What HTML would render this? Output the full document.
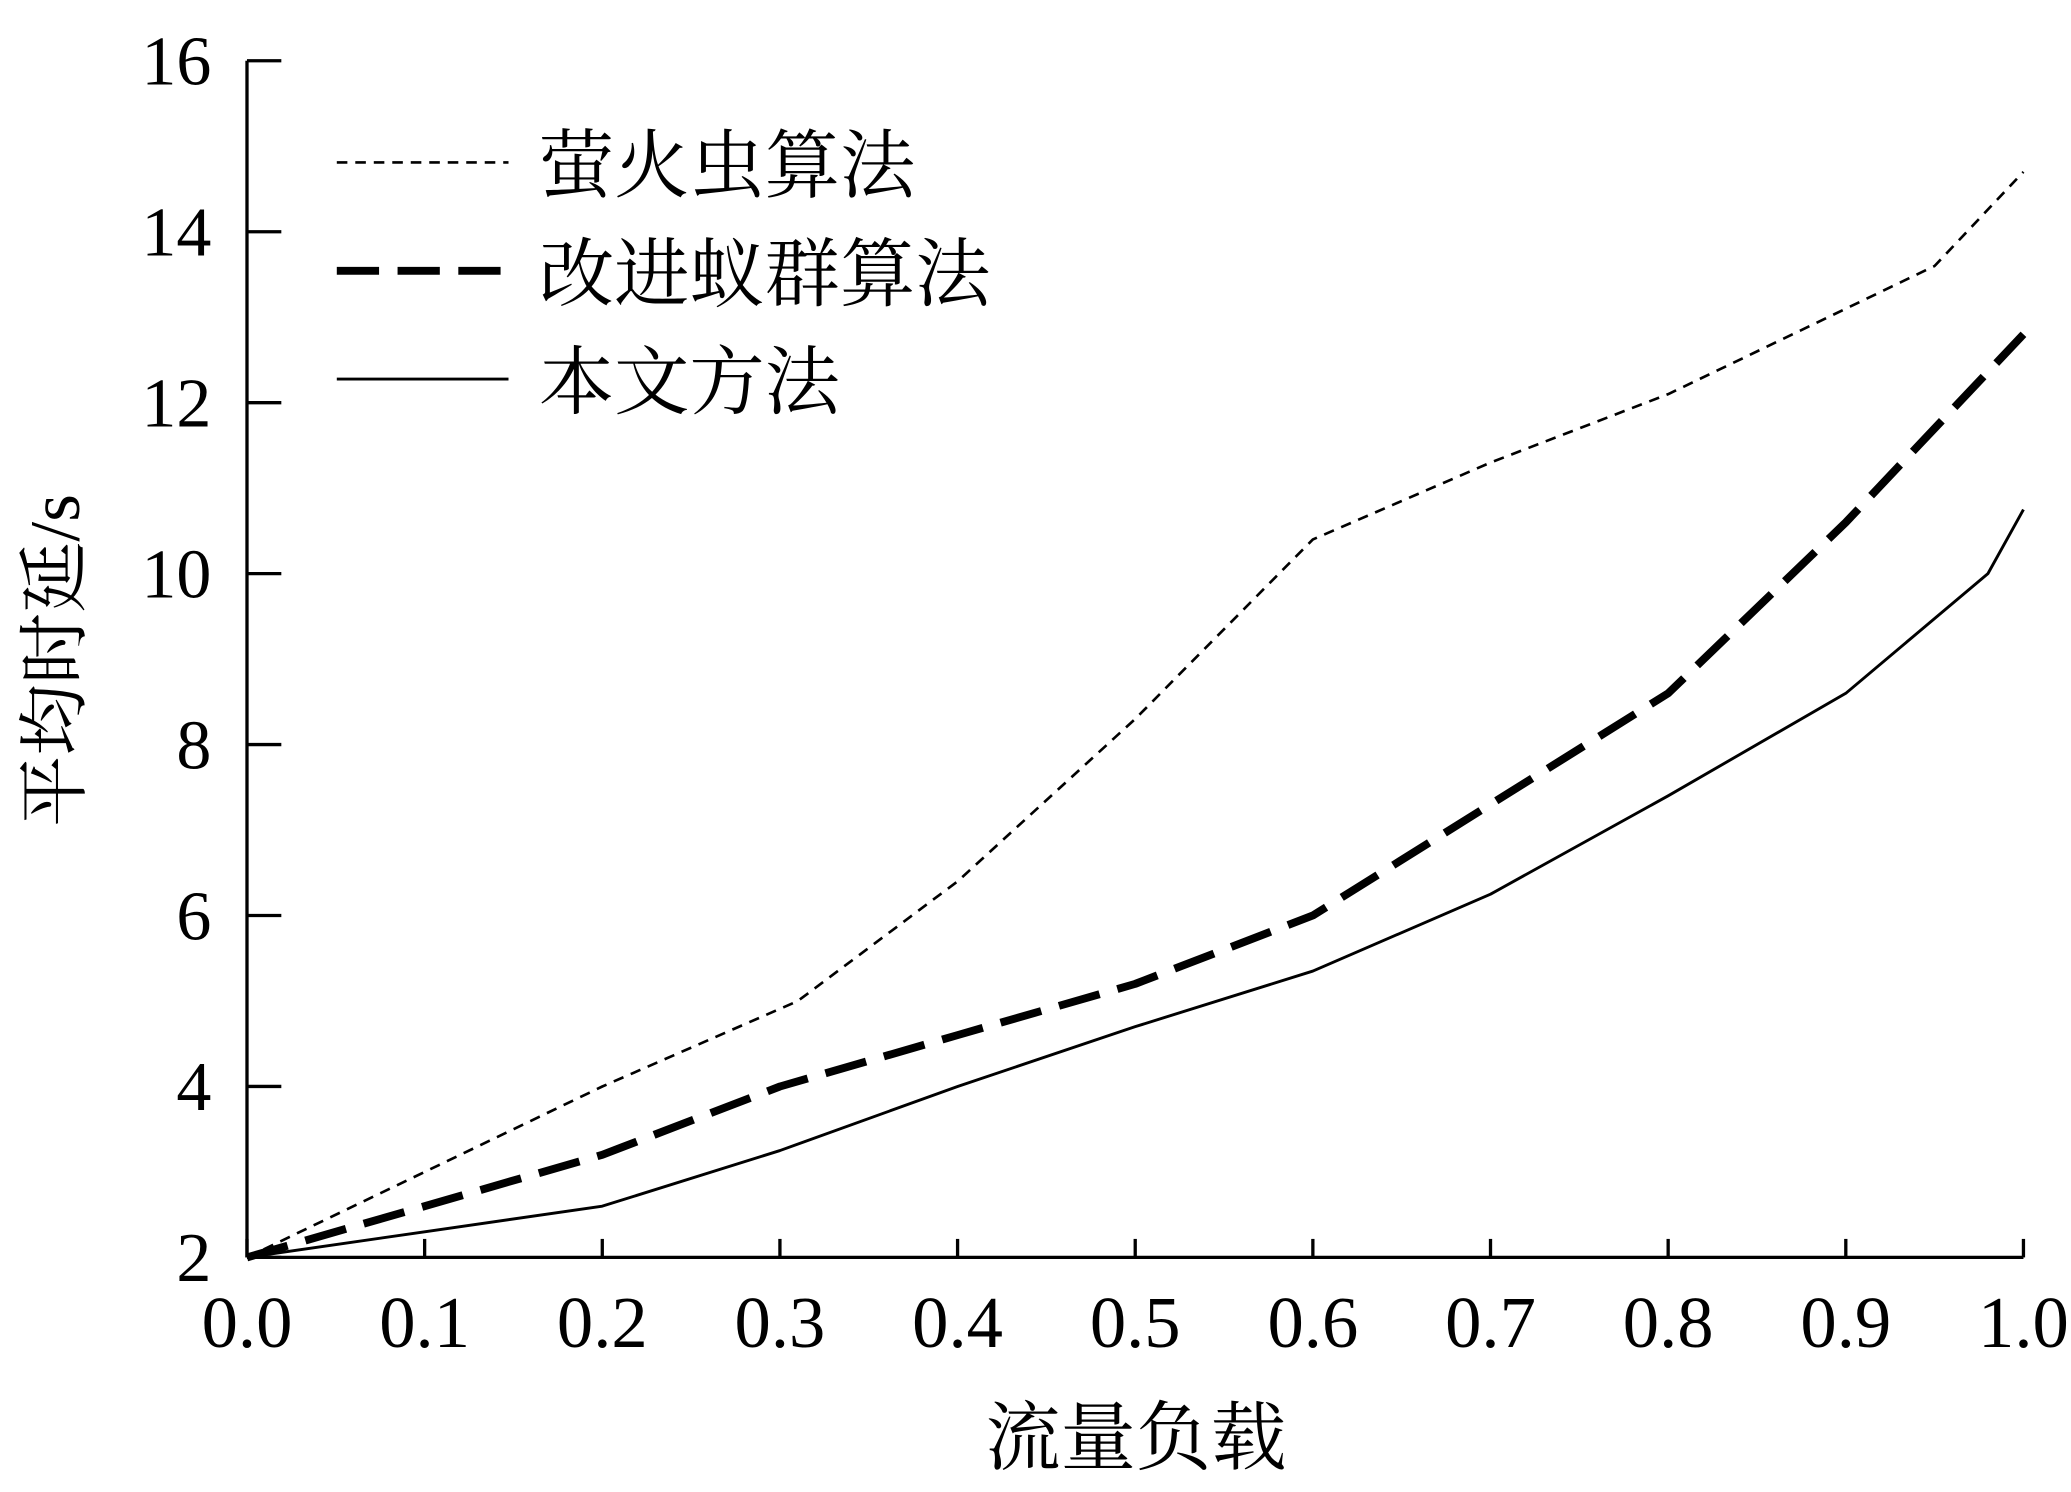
<!DOCTYPE html>
<html><head><meta charset="utf-8"><style>
html,body{margin:0;padding:0;background:#fff;}
svg{display:block;}
text{font-family:"Liberation Serif","Noto Serif CJK SC","Noto Sans CJK SC",serif;fill:#000;}
</style></head><body>
<svg id="chart" width="2071" height="1492" viewBox="0 0 1568 1129.6" xmlns="http://www.w3.org/2000/svg">
<rect width="1568" height="1130" fill="#fff"/>
<g id="axes"></g>
<g id="series"></g>
<g id="legend">
  <line x1="255" y1="123" x2="385" y2="123" stroke="#000" stroke-width="2" stroke-dasharray="8,6"/>
  <text x="408" y="145" font-size="57">萤火虫算法</text>
  <line x1="255" y1="205" x2="385" y2="205" stroke="#000" stroke-width="6" stroke-dasharray="32,14"/>
  <text x="408" y="227" font-size="57">改进蚁群算法</text>
  <line x1="255" y1="287" x2="385" y2="287" stroke="#000" stroke-width="2.2"/>
  <text x="408" y="309" font-size="57">本文方法</text>
</g>
<text x="860" y="1108" font-size="57" text-anchor="middle">流量负载</text>
<text transform="translate(60,500) rotate(-90)" font-size="54" text-anchor="middle">平均时延/s</text>
</svg>
<script>
const xTicks=[0,0.1,0.2,0.3,0.4,0.5,0.6,0.7,0.8,0.9,1.0];
const xTickLabels=["0.0","0.1","0.2","0.3","0.4","0.5","0.6","0.7","0.8","0.9","1.0"];
const yTicks=[2,4,6,8,10,12,14,16];
const yTickLabels=["2","4","6","8","10","12","14","16"];
const fireflyX=[0,0.1,0.2,0.31,0.4,0.5,0.6,0.7,0.8,0.9,0.95,1.0];
const fireflyY=[2,3,4,5,6.4,8.3,10.4,11.3,12.1,13.1,13.6,14.7];
const antX=[0,0.1,0.2,0.3,0.4,0.5,0.6,0.7,0.8,0.9,1.0];
const antY=[2,2.6,3.2,4.0,4.6,5.2,6.0,7.3,8.6,10.6,12.8];
const oursX=[0,0.1,0.2,0.3,0.4,0.5,0.6,0.7,0.8,0.9,0.98,1.0];
const oursY=[2,2.3,2.6,3.25,4.0,4.7,5.35,6.25,7.4,8.6,10.0,10.75];

const X0=187,X1=1532,Y0=952,Y1=46;
function sx(v){return X0+(v-0)/(1-0)*(X1-X0);}
function sy(v){return Y0-(v-2)/(16-2)*(Y0-Y1);}
const NS="http://www.w3.org/2000/svg";
const axes=document.getElementById('axes');
const series=document.getElementById('series');
function mk(tag,attrs,parent){const e=document.createElementNS(NS,tag);for(const k in attrs)e.setAttribute(k,attrs[k]);parent.appendChild(e);return e;}

const xa=mk('line',{x1:X0,y1:Y0,x2:X1,y2:Y0,stroke:'#000','stroke-width':2.5},axes);


const ya=mk('line',{x1:X0,y1:Y0,x2:X0,y2:Y1,stroke:'#000','stroke-width':2.5},axes);



xTicks.forEach((t,i)=>{
  const x=sx(t);
  const tk=mk('line',{x1:x,y1:Y0,x2:x,y2:Y0-14,stroke:'#000','stroke-width':2.5},axes);
  
  
  const lb=mk('text',{x:x,y:1020,'font-size':55,'text-anchor':'middle'},axes);
  lb.textContent=xTickLabels[i];
  
  
});
yTicks.forEach((t,i)=>{
  const y=sy(t);
  const tk=mk('line',{x1:X0,y1:y,x2:X0+26,y2:y,stroke:'#000','stroke-width':2.5},axes);
  
  
  const lb=mk('text',{x:160,y:y+18,'font-size':53,'text-anchor':'end'},axes);
  lb.textContent=yTickLabels[i];
  
  
});
function line(xs,ys,w,dash){
  const d=xs.map((x,i)=>(i?'L':'M')+sx(x).toFixed(1)+','+sy(ys[i]).toFixed(1)).join(' ');
  const p=mk('path',{d:d,fill:'none',stroke:'#000','stroke-width':w,'stroke-linejoin':'round'},series);
  if(dash)p.setAttribute('stroke-dasharray',dash);
  return p;
}
const p1=line(fireflyX,fireflyY,2,'8,6');


const p2=line(antX,antY,6,'32,14');


const p3=line(oursX,oursY,2.2,null);


</script>
</body></html>
